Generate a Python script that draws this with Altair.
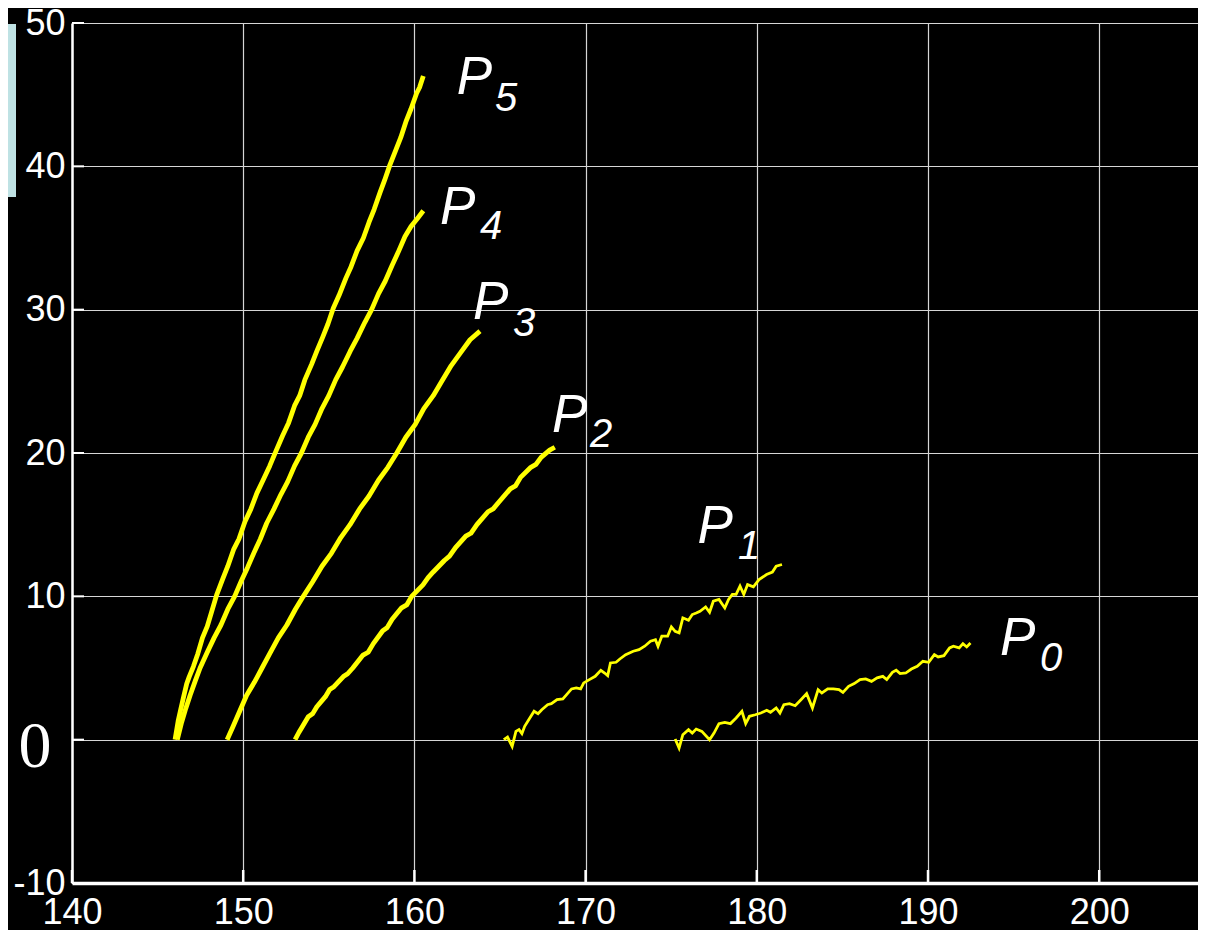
import altair as alt
import pandas as pd

# ---- data (x, y) ----
P0 = [(175.23, 0.05), (175.46, -0.58), (175.68, 0.35), (176.01, 0.70), (176.23, 0.46), (176.46, 0.74),
      (176.79, 0.58), (177.24, 0.00), (177.50, 0.46), (177.79, 1.12), (178.13, 1.21), (178.46, 1.12),
      (178.79, 1.51), (179.13, 1.98), (179.35, 1.12), (179.57, 1.63), (179.91, 1.74), (180.24, 1.86),
      (180.58, 2.05), (180.80, 1.91), (181.13, 2.21), (181.35, 1.86), (181.58, 2.44), (181.91, 2.51),
      (182.24, 2.37), (182.58, 2.79), (182.91, 3.21), (183.25, 2.21), (183.58, 3.49), (183.80, 3.26),
      (184.14, 3.54), (184.47, 3.54), (184.80, 3.49), (185.03, 3.30), (185.36, 3.72), (185.69, 3.91),
      (186.03, 4.19), (186.36, 4.24), (186.70, 4.07), (187.03, 4.31), (187.36, 4.42), (187.59, 4.19),
      (187.92, 4.70), (188.14, 4.84), (188.37, 4.61), (188.70, 4.65), (189.03, 4.93), (189.37, 5.12),
      (189.70, 5.47), (190.04, 5.40), (190.37, 5.93), (190.59, 5.77), (190.93, 5.86), (191.26, 6.40),
      (191.48, 6.52), (191.82, 6.40), (192.04, 6.70), (192.26, 6.47), (192.48, 6.75)]

P1 = [(165.22, 0.00), (165.44, 0.18), (165.71, -0.47), (165.93, 0.58), (166.11, 0.70), (166.28, 0.42),
      (166.44, 0.93), (166.66, 1.35), (166.99, 1.98), (167.22, 1.81), (167.44, 2.09), (167.78, 2.44),
      (168.00, 2.51), (168.33, 2.79), (168.67, 2.84), (168.89, 3.14), (169.18, 3.54), (169.45, 3.61),
      (169.71, 3.54), (169.89, 3.96), (170.22, 4.19), (170.56, 4.42), (170.89, 4.84), (171.11, 4.65),
      (171.29, 4.47), (171.45, 5.35), (171.78, 5.40), (172.00, 5.63), (172.34, 5.93), (172.78, 6.17),
      (173.12, 6.28), (173.45, 6.52), (173.79, 6.87), (174.08, 6.98), (174.23, 6.52), (174.45, 7.22),
      (174.79, 7.22), (175.01, 7.87), (175.23, 7.56), (175.46, 7.45), (175.68, 8.50), (176.01, 8.33),
      (176.23, 8.73), (176.46, 8.84), (176.68, 8.96), (177.01, 9.26), (177.24, 8.89), (177.46, 9.66),
      (177.79, 9.78), (178.13, 9.19), (178.35, 9.78), (178.57, 10.13), (178.79, 10.13), (179.02, 10.71),
      (179.24, 10.13), (179.46, 10.82), (179.80, 10.66), (180.13, 11.17), (180.57, 11.52), (180.91, 11.69),
      (181.13, 12.10), (181.47, 12.22)]

P2 = [(153.03, 0.0), (153.25, 0.5), (153.40, 0.8), (153.80, 1.6), (154.05, 1.8), (154.30, 2.3),
      (154.80, 3.0), (155.05, 3.5), (155.30, 3.7), (155.85, 4.4), (156.10, 4.6), (156.40, 5.0),
      (157.00, 5.9), (157.30, 6.1), (157.60, 6.7), (158.15, 7.6), (158.40, 7.8), (158.70, 8.4),
      (159.25, 9.2), (159.55, 9.4), (159.84, 10.0), (160.50, 10.8), (160.80, 11.3), (161.10, 11.7),
      (161.75, 12.5), (162.05, 12.8), (162.40, 13.4), (163.00, 14.2), (163.30, 14.4), (163.65, 15.0),
      (164.30, 15.9), (164.60, 16.1), (164.95, 16.6), (165.60, 17.5), (165.90, 17.7), (166.20, 18.3),
      (166.80, 19.0), (167.10, 19.2), (167.40, 19.7), (167.90, 20.2), (168.20, 20.4)]

P3 = [(149.06, 0.0), (149.40, 0.9), (149.80, 2.0), (150.20, 3.1), (150.65, 4.0), (151.10, 5.0),
      (151.55, 6.0), (152.05, 7.1), (152.55, 8.0), (153.05, 9.1), (153.51, 10.0), (154.05, 11.0),
      (154.60, 12.1), (155.15, 13.0), (155.70, 14.1), (156.24, 15.0), (156.80, 16.1), (157.35, 17.0),
      (157.90, 18.1), (158.45, 19.0), (158.97, 20.0), (159.50, 21.1), (160.05, 22.0), (160.55, 23.1),
      (161.10, 24.0), (161.60, 25.0), (162.15, 26.1), (162.70, 27.0), (163.25, 27.9), (163.83, 28.5)]

P4 = [(146.15, 0.0), (146.40, 1.2), (146.65, 2.2), (146.90, 3.1), (147.20, 4.1), (147.48, 5.0),
      (147.90, 6.1), (148.30, 7.1), (148.70, 8.0), (149.10, 9.1), (149.50, 10.0), (149.90, 11.1),
      (150.25, 12.0), (150.65, 13.1), (151.00, 14.0), (151.37, 15.1), (151.80, 16.1), (152.20, 17.1),
      (152.60, 18.0), (153.00, 19.1), (153.40, 20.0), (153.80, 21.1), (154.20, 22.0), (154.60, 23.1),
      (155.00, 24.0), (155.40, 25.1), (155.80, 26.0), (156.25, 27.1), (156.65, 28.0), (157.10, 29.1),
      (157.50, 30.0), (157.90, 31.1), (158.30, 32.0), (158.70, 33.1), (159.05, 34.0), (159.45, 35.1),
      (159.80, 35.8), (160.20, 36.4), (160.52, 36.9)]

P5 = [(146.02, 0.0), (146.20, 1.3), (146.35, 2.1), (146.52, 3.0), (146.70, 3.9), (146.85, 4.4),
      (147.09, 5.1), (147.35, 6.0), (147.62, 7.1), (147.90, 7.9), (148.15, 8.9), (148.45, 10.1),
      (148.80, 11.2), (149.10, 12.1), (149.45, 13.3), (149.75, 14.0), (150.10, 15.2), (150.45, 16.1),
      (150.80, 17.2), (151.20, 18.2), (151.55, 19.1), (151.90, 20.1), (152.30, 21.2), (152.65, 22.1),
      (153.00, 23.3), (153.30, 24.0), (153.60, 25.1), (154.00, 26.2), (154.30, 27.1), (154.65, 28.1),
      (154.95, 29.0), (155.26, 30.1), (155.60, 31.0), (156.00, 32.2), (156.30, 33.0), (156.65, 34.1),
      (157.02, 35.0), (157.35, 36.1), (157.65, 37.0), (158.00, 38.2), (158.25, 39.0), (158.57, 40.1),
      (158.90, 41.1), (159.20, 42.0), (159.50, 43.1), (159.80, 44.0), (160.13, 45.1), (160.30, 45.5),
      (160.52, 46.3)]

series_names = ["P0", "P1", "P2", "P3", "P4", "P5"]
series_data = [P0, P1, P2, P3, P4, P5]

label_main = [("P", 162.47, 45.04), ("P", 161.50, 35.96), ("P", 163.42, 29.33),
              ("P", 168.04, 21.44), ("P", 176.54, 13.74), ("P", 194.20, 5.94)]
label_sub = [("5", 164.71, 43.88), ("4", 163.83, 34.92), ("3", 165.76, 28.14),
             ("2", 170.26, 20.39), ("1", 178.90, 12.57), ("0", 196.54, 4.77)]

x_ticks = [140, 150, 160, 170, 180, 190, 200]
y_ticks = [-10, 0, 10, 20, 30, 40, 50]
x_domain = [140, 205.77]
y_domain = [-10, 50]

# ---- tables ----
rows = []
for name, pts in zip(series_names, series_data):
    for i, (x, y) in enumerate(pts):
        rows.append({"series": name, "i": i, "x": x, "y": y})
lines_df = pd.DataFrame(rows)
thin_df = lines_df[lines_df.series.isin(["P0", "P1"])]
thick_df = lines_df[~lines_df.series.isin(["P0", "P1"])]

main_df = pd.DataFrame(label_main, columns=["t", "x", "y"])
sub_df = pd.DataFrame(label_sub, columns=["t", "x", "y"])
xt_df = pd.DataFrame({"x": x_ticks})
yt_df = pd.DataFrame({"y": y_ticks})

xs = alt.Scale(domain=x_domain, nice=False, zero=False)
ys = alt.Scale(domain=y_domain, nice=False, zero=False)

x_axis = alt.Axis(values=x_ticks, title=None, labelFontSize=36, labelColor="white",
                  labelFont="Liberation Sans", grid=True, gridColor="#d6d6d6", gridWidth=1.2,
                  domainColor="white", domainWidth=3.5, tickSize=0, labelPadding=12,
                  labelFlush=False, labelBound=False)
y_axis = alt.Axis(values=y_ticks, title=None,
                  labelFontSize={"condition": {"test": "datum.value === 0", "value": 66}, "value": 36},
                  labelFont={"condition": {"test": "datum.value === 0", "value": "Liberation Serif"},
                             "value": "Liberation Sans"},
                  labelOffset={"condition": {"test": "datum.value === 0", "value": 7}, "value": 0},
                  labelPadding={"condition": {"test": "datum.value === 0", "value": 21}, "value": 7},
                  labelExpr="'' + datum.value",
                  labelColor="white", grid=True, gridColor="#d6d6d6", gridWidth=1.2,
                  domainColor="white", domainWidth=2.5, tickSize=0,
                  labelFlush=False, labelBound=False)

thick = alt.Chart(thick_df).mark_line(color="#ffff00", strokeWidth=4.8, strokeJoin="round").encode(
    x=alt.X("x:Q", scale=xs, axis=x_axis),
    y=alt.Y("y:Q", scale=ys, axis=y_axis),
    detail="series:N",
    order="i:Q",
)
thin = alt.Chart(thin_df).mark_line(color="#ffff00", strokeWidth=2.8).encode(
    x=alt.X("x:Q", scale=xs),
    y=alt.Y("y:Q", scale=ys),
    detail="series:N",
    order="i:Q",
)

yticks = alt.Chart(yt_df).mark_rule(color="white", strokeWidth=2).encode(
    y=alt.Y("y:Q", scale=ys), x=alt.value(0), x2=alt.value(12)
)
xticks = alt.Chart(xt_df).mark_rule(color="white", strokeWidth=2.5).encode(
    x=alt.X("x:Q", scale=xs), y=alt.value(860), y2=alt.value(847)
)

main_txt = alt.Chart(main_df).mark_text(
    align="left", baseline="alphabetic", font="Liberation Sans", fontStyle="italic",
    fontSize=53, color="white"
).encode(x=alt.X("x:Q", scale=xs), y=alt.Y("y:Q", scale=ys), text="t:N")
sub_txt = alt.Chart(sub_df).mark_text(
    align="left", baseline="alphabetic", font="Liberation Sans", fontStyle="italic",
    fontSize=40, color="white"
).encode(x=alt.X("x:Q", scale=xs), y=alt.Y("y:Q", scale=ys), text="t:N")

band = alt.Chart(pd.DataFrame({"a": [0]})).mark_rect(color="#bfe2e4").encode(
    x=alt.value(-64), x2=alt.value(-56), y=alt.value(1), y2=alt.value(174)
)

chart = alt.layer(thick, thin, yticks, xticks, main_txt, sub_txt, band).properties(
    width=1126, height=860,
    autosize=alt.AutoSizeParams(type="none"),
    padding={"left": 64, "top": 15, "right": 0, "bottom": 50},
    background="black",
).configure_view(stroke=None)

chart.save("out.html", embed_options={"renderer": "svg", "actions": False})
